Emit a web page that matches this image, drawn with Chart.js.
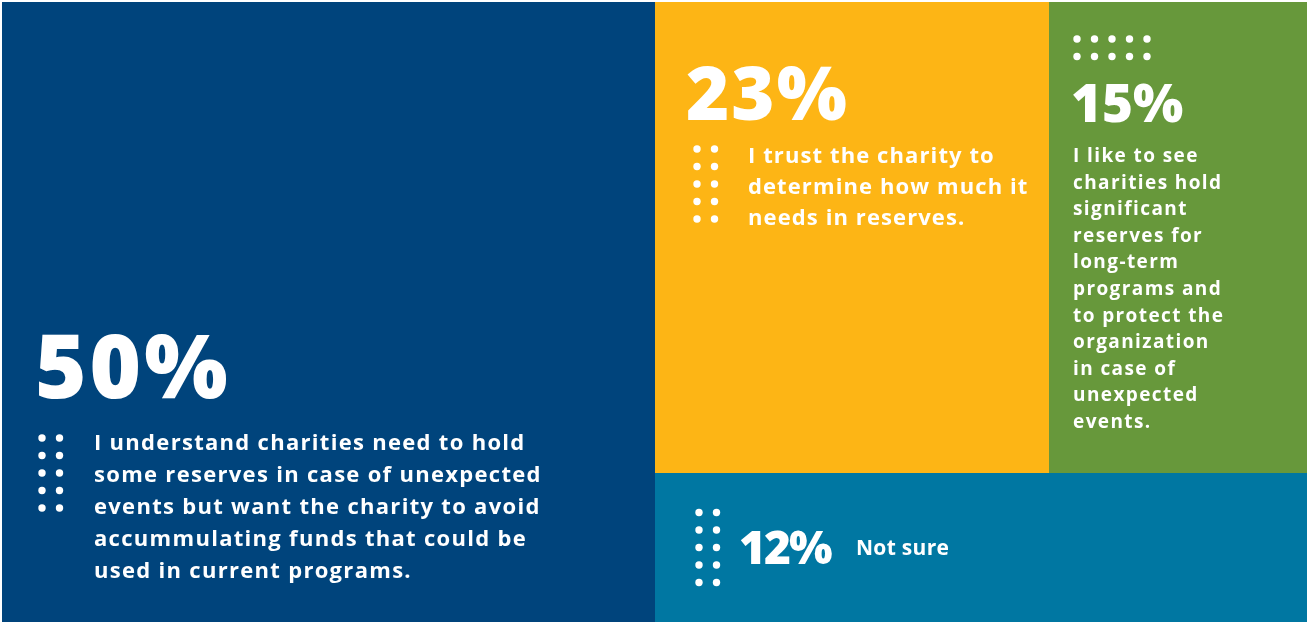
<!DOCTYPE html>
<html>
<head>
<meta charset="utf-8">
<script src="https://cdn.jsdelivr.net/npm/chart.js@4/dist/chart.umd.min.js"></script>
<style>
  html, body { margin: 0; padding: 0; background: #ffffff; }
  #wrap { width: 1307px; height: 622px; }
</style>
</head>
<body>
<div id="wrap"><canvas id="chart" width="1307" height="622"></canvas></div>
<script>
// Survey answers: share of respondents per statement
const categories = [
  'Avoid accumulating funds',
  'Trust the charity',
  'Significant reserves',
  'Not sure'
];
const shares = [50, 23, 15, 12];
const valueLabels = ['50%', '23%', '15%', '12%'];
const descriptions = [
  ['I understand charities need to hold',
   'some reserves in case of unexpected',
   'events but want the charity to avoid',
   'accummulating funds that could be',
   'used in current programs.'],
  ['I trust the charity to',
   'determine how much it',
   'needs in reserves.'],
  ['I like to see',
   'charities hold',
   'significant',
   'reserves for',
   'long-term',
   'programs and',
   'to protect the',
   'organization',
   'in case of',
   'unexpected',
   'events.'],
  ['Not sure']
];
const colors = ['#00447c', '#fdb515', '#67983b', '#0077a2'];

// Slice-and-dice tree: first cell | (top row of two cells / bottom cell)
const tree = { dir: 'h', children: [0, { dir: 'v', children: [{ dir: 'h', children: [1, 2] }, 3] }] };

function total(node) {
  return typeof node === 'number' ? shares[node] : node.children.reduce((s, c) => s + total(c), 0);
}
// Rectangles in data units (x: 0..100 left→right, y: 0..100 top→bottom)
function layout(node, x0, y0, x1, y1, out) {
  if (typeof node === 'number') { out[node] = { x0, y0, x1, y1 }; return out; }
  const sum = total(node);
  let pos = node.dir === 'h' ? x0 : y0;
  node.children.forEach(c => {
    const span = (node.dir === 'h' ? (x1 - x0) : (y1 - y0)) * total(c) / sum;
    if (node.dir === 'h') layout(c, pos, y0, pos + span, y1, out);
    else layout(c, x0, pos, x1, pos + span, out);
    pos += span;
  });
  return out;
}

const FONT = '"Open Sans", "DejaVu Sans", sans-serif';

function dots(ctx, x, y, cols, rows) {
  ctx.fillStyle = '#ffffff';
  for (let r = 0; r < rows; r++) {
    for (let c = 0; c < cols; c++) {
      ctx.beginPath();
      ctx.arc(x + c * 17.5, y + r * 17.5, 3.7, 0, Math.PI * 2);
      ctx.fill();
    }
  }
}
function text(ctx, str, x, y, size, weight, spacing) {
  ctx.font = weight + ' ' + size + 'px ' + FONT;
  ctx.letterSpacing = spacing + 'px';
  ctx.fillStyle = '#ffffff';
  ctx.fillText(str, x, y);
}
function lines(ctx, arr, x, y, step, size, spacing) {
  arr.forEach((t, i) => text(ctx, t, x, y + i * step, size, 700, spacing));
}

const treemapPlugin = {
  id: 'treemapCells',
  beforeDatasetsDraw(chart) {
    const { ctx, scales: { x, y } } = chart;
    const rects = layout(tree, 0, 0, 100, 100, []);
    const px = rects.map(r => ({
      L: Math.round(x.getPixelForValue(r.x0)), R: Math.round(x.getPixelForValue(r.x1)),
      T: Math.round(y.getPixelForValue(r.y0)), B: Math.round(y.getPixelForValue(r.y1))
    }));
    ctx.save();
    px.forEach((p, i) => {
      ctx.fillStyle = colors[i];
      ctx.fillRect(p.L, p.T, p.R - p.L, p.B - p.T);
    });
    ctx.textBaseline = 'alphabetic';
    ctx.textAlign = 'left';

    // Cell 0: text anchored to the bottom
    let p = px[0];
    text(ctx, valueLabels[0], p.L + 33, p.B - 224, 88, 800, 3);
    lines(ctx, descriptions[0], p.L + 92, p.B - 172, 32, 22, 1.3);
    dots(ctx, p.L + 40, p.B - 184, 2, 5);

    // Cell 1: text anchored to the top
    p = px[1];
    text(ctx, valueLabels[1], p.L + 31, p.T + 118, 74, 800, 2);
    lines(ctx, descriptions[1], p.L + 93, p.T + 161, 31, 22, 1.1);
    dots(ctx, p.L + 42, p.T + 147, 2, 5);

    // Cell 2
    p = px[2];
    dots(ctx, p.L + 28, p.T + 37, 5, 2);
    text(ctx, valueLabels[2], p.L + 22, p.T + 120, 53, 800, 0);
    lines(ctx, descriptions[2], p.L + 24, p.T + 160, 26.6, 19, 1.4);

    // Cell 3: centred vertically
    p = px[3];
    const cy = (p.T + p.B) / 2;
    dots(ctx, p.L + 44, cy - 35, 2, 5);
    text(ctx, valueLabels[3], p.L + 84, cy + 16, 46, 800, -2);
    lines(ctx, descriptions[3], p.L + 201, cy + 7, 0, 21, 0.3);
    ctx.restore();
  }
};

new Chart(document.getElementById('chart'), {
  type: 'scatter',
  data: { labels: categories, datasets: [{ data: [], pointRadius: 0 }] },
  options: {
    responsive: false,
    animation: false,
    layout: { padding: { left: 2, top: 2, right: 0, bottom: 0 } },
    plugins: { legend: { display: false }, tooltip: { enabled: false } },
    scales: {
      x: { type: 'linear', min: 0, max: 100, display: false },
      y: { type: 'linear', min: 0, max: 100, reverse: true, display: false }
    }
  },
  plugins: [treemapPlugin]
});
</script>
</body>
</html>
